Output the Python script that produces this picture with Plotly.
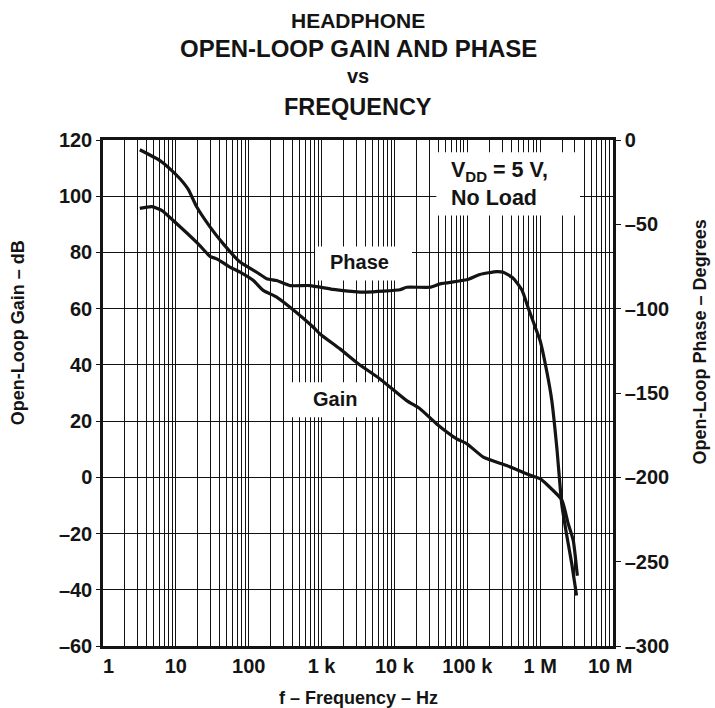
import plotly.graph_objects as go

# ---- data ----
gain_freq = [3.2, 4.7, 6.4, 10.3, 19.3, 21.4, 29.4, 36.4, 55, 76, 116, 158, 242, 369,
             770, 951, 1790, 3190, 6340, 14700, 22400, 38000, 71600, 98000, 166000,
             347000, 660000, 1000000, 1290000, 1980000, 2430000, 2850000, 3240000]
gain_db = [95.7, 96.3, 95.0, 90.2, 83.6, 82.4, 78.6, 77.7, 74.8, 73.0, 70.0, 66.5, 64.1, 60.5,
           53.4, 51.0, 45.7, 40.4, 35.0, 27.3, 24.4, 19.0, 13.7, 12.0, 7.2,
           4.2, 1.2, -0.5, -3.0, -8.0, -16.5, -22.5, -35.0]

phase_freq = [3.2, 6.05, 8.3, 11.4, 14.8, 19.3, 29.4, 44.8, 76, 129, 177, 242, 369, 692,
              1450, 3370, 4160, 11900, 14700, 30800, 42200, 98200, 149000, 254000, 312000,
              428000, 562000, 692000, 891000, 1000000, 1230000, 1440000, 1690000, 1980000,
              2310000, 2710000, 3160000]
phase_deg = [-5.8, -12.2, -17.1, -23.0, -29.3, -39.6, -51.5, -61.6, -72.4, -78.4, -82.3, -83.3, -86.3, -86.3,
             -88.6, -90.2, -90.2, -88.8, -87.3, -87.3, -85.3, -82.9, -79.7, -78.0, -78.4,
             -82.0, -89.0, -100.0, -113.0, -119.0, -137.0, -154.0, -182.0, -216.0,
             -234.0, -251.0, -270.0]

x_decades = [1, 10, 100, 1e3, 1e4, 1e5, 1e6, 1e7]
x_labels = ["\u00a0\u00a01", "10", "100", "1 k", "10 k", "100 k", "1 M", "10 M\u00a0"]
gain_ticks = [120, 100, 80, 60, 40, 20, 0, -20, -40, -60]
gain_labels = ["120", "100", "80", "60", "40", "20", "0", "\u201320", "\u201340", "\u201360"]
phase_ticks = [0, -50, -100, -150, -200, -250, -300]
phase_labels = ["0", "\u201350", "\u2013100", "\u2013150", "\u2013200", "\u2013250", "\u2013300"]

# minor log grid lines 2..9 x 10^k
minor_vals = [m * 10 ** k for k in range(7) for m in range(2, 10)]

FONT = "Liberation Sans, Arial, sans-serif"
INK = "#141414"
GRID = "#111111"

fig = go.Figure()
fig.add_trace(go.Scatter(x=gain_freq, y=gain_db, mode="lines", name="Gain",
                         line=dict(color=INK, width=3.2, shape="spline", smoothing=0.5),
                         showlegend=False))
fig.add_trace(go.Scatter(x=phase_freq, y=phase_deg, mode="lines", name="Phase", yaxis="y2",
                         line=dict(color=INK, width=3.2, shape="spline", smoothing=0.5),
                         showlegend=False))

tickfont = dict(family=FONT, size=20, color=INK, weight="bold")

fig.update_layout(
    width=715, height=708,
    margin=dict(l=103, r=102, t=140, b=62, autoexpand=False),
    paper_bgcolor="white", plot_bgcolor="white",
    xaxis=dict(type="log", range=[0, 7], tickmode="array", tickvals=x_decades, ticktext=x_labels,
               tickangle=0, automargin=False,
               showgrid=True, gridcolor=GRID, gridwidth=1, ticks="",
               minor=dict(tickmode="array", tickvals=minor_vals, showgrid=True,
                          gridcolor=GRID, gridwidth=1, ticks=""),
               showline=True, linecolor=INK, linewidth=2.5, mirror=True,
               tickfont=tickfont, zeroline=False),
    yaxis=dict(range=[-60, 120], tickmode="array", tickvals=gain_ticks, ticktext=gain_labels,
               automargin=False,
               showgrid=True, gridcolor=GRID, gridwidth=1, ticks="outside", ticklen=4,
               tickcolor=INK, showline=True, linecolor=INK, linewidth=2.5, mirror=True,
               tickfont=tickfont, zeroline=False),
    yaxis2=dict(range=[-300, 0], overlaying="y", side="right", tickmode="array",
                tickvals=phase_ticks, ticktext=phase_labels, showgrid=False, automargin=False,
                ticks="outside", ticklen=5, tickcolor=INK, showline=True, linecolor=INK,
                linewidth=2.5, tickfont=tickfont, zeroline=False),
)

# white label boxes (drawn over the grid; curves do not pass through them)
boxes = [
    (0.6536, 0.8508, 0.9353, 0.9759),
    (0.4157, 0.7224, 0.6059, 0.7895),
    (0.3706, 0.4522, 0.5471, 0.5213),
]
for x0, y0, x1, y1 in boxes:
    fig.add_shape(type="rect", xref="paper", yref="paper", x0=x0, y0=y0, x1=x1, y1=y1,
                  fillcolor="white", line=dict(width=0), layer="above")

def ann(text, x, y, size, angle=0, xanchor="center", align="center"):
    fig.add_annotation(text=text, x=x, y=y, xref="paper", yref="paper", showarrow=False,
                       xanchor=xanchor, yanchor="middle", textangle=angle, align=align,
                       font=dict(family=FONT, size=size, color=INK, weight="bold"))

# title
ann("HEADPHONE", 0.5, 1.2362, 21)
ann("OPEN-LOOP GAIN AND PHASE", 0.5, 1.1808, 24)
ann("vs", 0.5, 1.1255, 20)
ann("FREQUENCY", 0.5, 1.0662, 23.5)

# in-plot labels
ann("V<sub>DD</sub> = 5 V,<br>No Load", 0.678, 0.914, 21.5, xanchor="left", align="left")
ann("Phase", 0.502, 0.758, 20)
ann("Gain", 0.4549, 0.4872, 20)

# axis titles
ann("f \u2013 Frequency \u2013 Hz", 0.5, -0.102, 18)
ann("Open-Loop Gain \u2013 dB", -0.1667, 0.62, 18, angle=-90)
ann("Open-Loop Phase \u2013 Degrees", 1.1706, 0.60, 18, angle=-90)

fig.write_html("out.html", config={"displayModeBar": False},
               post_script="document.body.style.margin='0';document.body.style.overflow='hidden';")
